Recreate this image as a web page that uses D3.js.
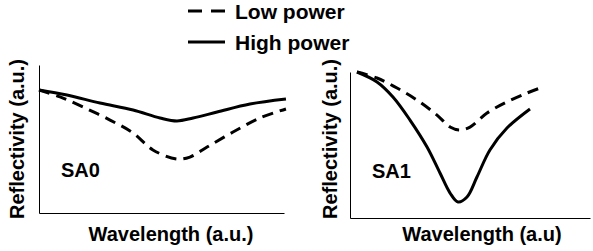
<!DOCTYPE html>
<html>
<head>
<meta charset="utf-8">
<script src="https://cdn.jsdelivr.net/npm/d3@7/dist/d3.min.js"></script>
<style>
  html, body { margin: 0; padding: 0; background: #fff; }
  svg { display: block; }
  text { font-family: "Liberation Sans", Arial, sans-serif; font-weight: bold; fill: #000; }
</style>
</head>
<body>
<svg id="chart" width="593" height="251"></svg>
<script>
// ---- Data (normalized wavelength 0-100, reflectivity 0-1) ----
const seriesNames = ["Low power", "High power"];
const panelLabels = ["SA0", "SA1"];
const xTitles = ["Wavelength (a.u.)", "Wavelength (a.u)"];
const yTitle = "Reflectivity (a.u.)";

// SA0
const sa0LowX  = [0, 8.6, 18, 29, 38.4, 46.5, 56.3, 61.6, 68.6, 79.2, 90.2, 100.8];
const sa0LowY  = [0.831, 0.784, 0.716, 0.628, 0.541, 0.426, 0.365, 0.378, 0.446, 0.547, 0.642, 0.703];
const sa0HighX = [0, 11.4, 24.9, 38.4, 49.4, 56.3, 62.9, 72.7, 86.1, 100.8];
const sa0HighY = [0.831, 0.797, 0.743, 0.696, 0.642, 0.622, 0.642, 0.682, 0.736, 0.770];

// SA1
const sa1LowX  = [2.9, 11.25, 19.6, 27.9, 36.25, 41.7, 45.4, 50, 57.1, 65.4, 73.75, 79.2];
const sa1LowY  = [1.0, 0.959, 0.890, 0.808, 0.705, 0.623, 0.603, 0.623, 0.719, 0.795, 0.856, 0.890];
const sa1HighX = [2.9, 11.25, 17.9, 25, 32.1, 37.5, 41.7, 45, 48.75, 52.9, 58.3, 65.4, 75];
const sa1HighY = [1.0, 0.932, 0.829, 0.671, 0.486, 0.308, 0.171, 0.110, 0.144, 0.281, 0.466, 0.616, 0.747];

const zip = (xs, ys) => xs.map((x, i) => ({x, y: ys[i]}));

const panels = [
  { label: panelLabels[0], xTitle: xTitles[0],
    low: zip(sa0LowX, sa0LowY), high: zip(sa0HighX, sa0HighY),
    xr: [39, 284], yr: [213, 65], yTitleX: 24, labelPos: [61, 177], xTitleX: 171, xTitleY: 241 },
  { label: panelLabels[1], xTitle: xTitles[1],
    low: zip(sa1LowX, sa1LowY), high: zip(sa1HighX, sa1HighY),
    xr: [350, 590], yr: [218, 72], yTitleX: 337, labelPos: [372, 178], xTitleX: 482, xTitleY: 241 }
];

const svg = d3.select("#chart");

panels.forEach(p => {
  const x = d3.scaleLinear().domain([0, 100]).range(p.xr);
  const y = d3.scaleLinear().domain([0, 1]).range(p.yr);
  const g = svg.append("g");

  // axes (no ticks)
  g.append("g").attr("transform", `translate(0,${p.yr[0]})`)
    .call(d3.axisBottom(x).tickValues([]).tickSizeOuter(0))
    .select(".domain").attr("stroke", "#000").attr("stroke-width", 1);
  g.append("g").attr("transform", `translate(${p.xr[0]},0)`)
    .call(d3.axisLeft(y).tickValues([]).tickSizeOuter(0))
    .select(".domain").attr("stroke", "#000").attr("stroke-width", 1);

  const line = d3.line().x(d => x(d.x)).y(d => y(d.y)).curve(d3.curveCatmullRom.alpha(0.5));

  g.append("path").datum(p.low).attr("d", line)
    .attr("fill", "none").attr("stroke", "#000").attr("stroke-width", 3)
    .attr("stroke-dasharray", "11,7");
  g.append("path").datum(p.high).attr("d", line)
    .attr("fill", "none").attr("stroke", "#000").attr("stroke-width", 3);

  g.append("text").attr("x", p.labelPos[0]).attr("y", p.labelPos[1])
    .attr("font-size", 20).text(p.label);

  g.append("text").attr("x", p.xTitleX).attr("y", p.xTitleY)
    .attr("text-anchor", "middle").attr("font-size", 20).text(p.xTitle);

  g.append("text")
    .attr("transform", `translate(${p.yTitleX},139) rotate(-90)`)
    .attr("text-anchor", "middle").attr("font-size", 20).text(yTitle);
});

// legend
const legend = svg.append("g");
const legendY = [11, 42];
seriesNames.forEach((name, i) => {
  legend.append("line").attr("x1", 188).attr("x2", 225)
    .attr("y1", legendY[i]).attr("y2", legendY[i])
    .attr("stroke", "#000").attr("stroke-width", 3)
    .attr("stroke-dasharray", i === 0 ? "14,9" : null);
  legend.append("text").attr("x", 235).attr("y", legendY[i] + 8)
    .attr("font-size", 21).text(name);
});
</script>
</body>
</html>
